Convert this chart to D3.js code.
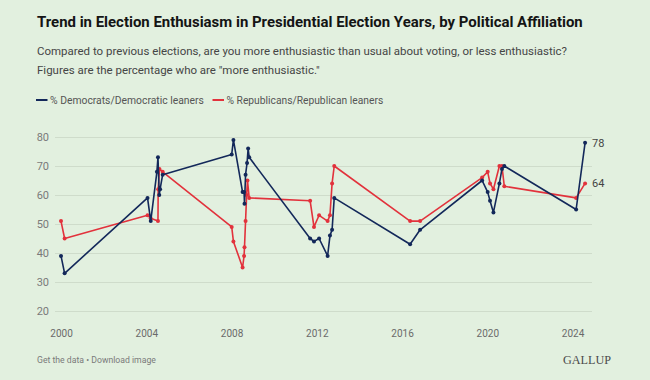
<!DOCTYPE html>
<html>
<head>
<meta charset="utf-8">
<script src="https://cdn.jsdelivr.net/npm/d3@7"></script>
<style>
  html, body { margin: 0; padding: 0; background: #e2f0df; }
  svg { display: block; }
  text { font-family: Roboto, "Noto Sans", sans-serif; }
</style>
</head>
<body>
<svg id="chart" width="650" height="380"></svg>
<script>
// ---- data ----
const title = "Trend in Election Enthusiasm in Presidential Election Years, by Political Affiliation";
const subtitleLines = [
  "Compared to previous elections, are you more enthusiastic than usual about voting, or less enthusiastic?",
  "Figures are the percentage who are \"more enthusiastic.\""
];
const seriesNames = ["% Democrats/Democratic leaners", "% Republicans/Republican leaners"];

// survey dates as decimal years
const demDates = [2000.0, 2000.17,
  2004.06, 2004.21, 2004.50, 2004.55, 2004.61, 2004.65, 2004.77,
  2008.01, 2008.09, 2008.52, 2008.59, 2008.61, 2008.66, 2008.73, 2008.78, 2008.83,
  2011.69, 2011.87, 2012.11, 2012.51, 2012.62, 2012.72, 2012.82,
  2016.38, 2016.85,
  2019.76, 2020.02, 2020.13, 2020.29, 2020.57, 2020.69, 2020.80,
  2024.17, 2024.59];
const demValues = [39, 33,
  59, 51, 68, 73, 60, 62, 67,
  74, 79, 61, 61, 57, 67, 71, 76, 73,
  45, 44, 45, 39, 46, 48, 59,
  43, 48,
  65, 61, 58, 54, 64, 69, 70,
  55, 78];

const repDates = [2000.0, 2000.17,
  2004.06, 2004.21, 2004.55, 2004.56, 2004.62, 2004.77,
  2008.01, 2008.09, 2008.52, 2008.59, 2008.61, 2008.66, 2008.71, 2008.75, 2008.83,
  2011.69, 2011.87, 2012.11, 2012.51, 2012.62, 2012.72, 2012.82,
  2016.38, 2016.85,
  2019.76, 2020.02, 2020.13, 2020.29, 2020.57, 2020.69, 2020.80,
  2024.17, 2024.59];
const repValues = [51, 45,
  53, 52, 51, 62, 69, 68,
  49, 44, 35, 39, 42, 51, 60, 65, 59,
  58, 49, 53, 51, 53, 64, 70,
  51, 51,
  66, 68, 64, 62, 70, 70, 63,
  59, 64];

const xTickYears = [2000, 2004, 2008, 2012, 2016, 2020, 2024];
const yTicks = [20, 30, 40, 50, 60, 70, 80];
const colors = ["#13285a", "#e2323c"];

// ---- layout ----
const svg = d3.select("#chart");
const x = d3.scaleLinear().domain([2000, 2024]).range([61, 572.5]);
const y = d3.scaleLinear().domain([20, 80]).range([311, 137]);
const gridLeft = 55, gridRight = 592;

function fitText(sel, target) {
  const w = sel.node().getComputedTextLength();
  const fs = parseFloat(sel.attr("font-size"));
  sel.attr("font-size", (fs * target / w).toFixed(2));
}

// title & subtitle
const t = svg.append("text").attr("x", 37).attr("y", 27)
  .attr("font-size", 15).attr("font-weight", 700).attr("fill", "#141414").text(title);
fitText(t, 546);
const s1 = svg.append("text").attr("x", 37).attr("y", 55)
  .attr("font-size", 12).attr("fill", "#454545").text(subtitleLines[0]);
fitText(s1, 530);
const fsSub = s1.attr("font-size");
svg.append("text").attr("x", 37).attr("y", 74)
  .attr("font-size", fsSub).attr("fill", "#454545").text(subtitleLines[1]);

// legend
const legX = [36, 212.5];
seriesNames.forEach((name, i) => {
  svg.append("line").attr("x1", legX[i]).attr("x2", legX[i] + 11.5)
    .attr("y1", 100).attr("y2", 100).attr("stroke", colors[i]).attr("stroke-width", 2);
  const lt = svg.append("text").attr("x", legX[i] + 14).attr("y", 103.5)
    .attr("font-size", 10).attr("fill", "#555").text(name);
  fitText(lt, i === 0 ? 154 : 157);
});

// grid + y labels
const yAxis = d3.axisLeft(y).tickValues(yTicks).tickSize(-(gridRight - gridLeft)).tickPadding(6);
const gy = svg.append("g").attr("transform", `translate(${gridLeft},0)`).call(yAxis);
gy.select(".domain").remove();
gy.selectAll(".tick line").attr("stroke", "#cfdccb").attr("stroke-width", 1);
gy.selectAll(".tick text").attr("font-size", 11).attr("fill", "#7a7a7a")
  .attr("font-family", "Roboto, sans-serif");

// x labels
const xAxis = d3.axisBottom(x).tickValues(xTickYears).tickFormat(d3.format("d")).tickSize(0).tickPadding(0);
const gx = svg.append("g").attr("transform", `translate(0,330)`).call(xAxis);
gx.select(".domain").remove();
gx.selectAll(".tick text").attr("font-size", 10).attr("fill", "#6a6a6a")
  .attr("font-family", "Roboto, sans-serif");

// series
const series = [
  demDates.map((d, i) => ({ t: d, v: demValues[i] })),
  repDates.map((d, i) => ({ t: d, v: repValues[i] }))
];
const line = d3.line().x(d => x(d.t)).y(d => y(d.v));
// draw republicans first, democrats on top
[1, 0].forEach(i => {
  svg.append("path").datum(series[i]).attr("d", line)
    .attr("fill", "none").attr("stroke", colors[i]).attr("stroke-width", 1.6)
    .attr("stroke-linejoin", "round");
  svg.append("g").selectAll("circle").data(series[i]).join("circle")
    .attr("cx", d => x(d.t)).attr("cy", d => y(d.v)).attr("r", 2)
    .attr("fill", colors[i]);
});

// end labels
series.forEach((s, i) => {
  const last = s[s.length - 1];
  svg.append("text").attr("x", x(last.t) + 7).attr("y", y(last.v) + 4)
    .attr("font-size", 11).attr("fill", "#444").text(last.v);
});

// footer
const ft = svg.append("text").attr("x", 37).attr("y", 363)
  .attr("font-size", 9).attr("fill", "#7a7a7a").text("Get the data \u2022 Download image");
fitText(ft, 119);
const g = svg.append("text").attr("x", 563).attr("y", 364)
  .attr("font-size", 12).attr("fill", "#4a4a4a")
  .style("font-family", "'Liberation Serif', 'DejaVu Serif', serif").text("GALLUP");
fitText(g, 48);
</script>
</body>
</html>
